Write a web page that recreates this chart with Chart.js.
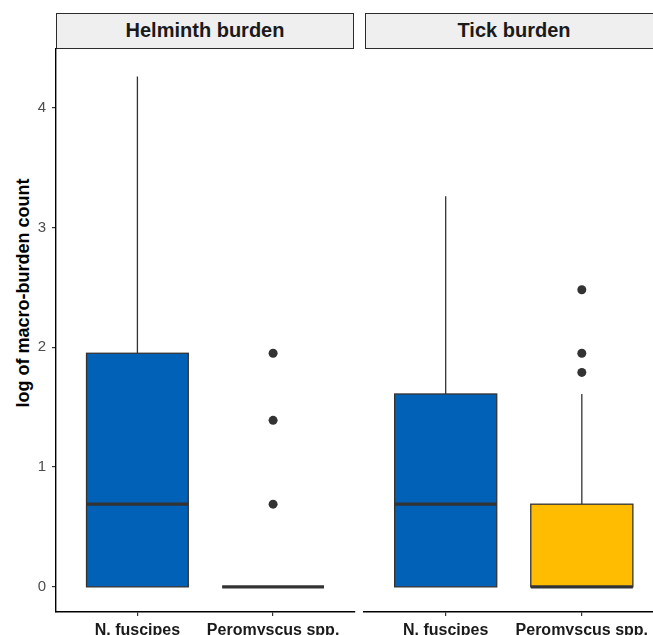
<!DOCTYPE html>
<html>
<head>
<meta charset="utf-8">
<script src="https://cdn.jsdelivr.net/npm/chart.js@4.4.1/dist/chart.umd.min.js"></script>
<style>
  html, body { margin:0; padding:0; background:#fff; }
  body { width:653px; height:635px; overflow:hidden; position:relative; font-family:"Liberation Sans", Arial, sans-serif; }
  canvas { position:absolute; top:0; }
  .strip { position:absolute; top:13px; height:36px; width:298px; box-sizing:border-box; border:1.5px solid #2b2b2b;
           background:#efefef; font-weight:bold; font-size:20px; line-height:33px; text-align:center; color:#1a1a1a; }
  #ytitle { position:absolute; left:-177px; top:282px; width:400px; height:22px; line-height:22px; text-align:center;
            transform:rotate(-90deg); font-weight:bold; font-size:18px; color:#000; }
</style>
</head>
<body>
<div id="ytitle">log of macro-burden count</div>
<div class="strip" style="left:56px;">Helminth burden</div>
<div class="strip" style="left:365px;">Tick burden</div>
<canvas id="c1" width="359" height="635" style="left:0px;width:359px;height:635px;"></canvas>
<canvas id="c2" width="315" height="635" style="left:353px;width:315px;height:635px;"></canvas>
<script>
const categories = ['N. fuscipes', 'Peromyscus spp.'];
const yTicks = [0, 1, 2, 3, 4];
const boxColors = ['#0061B7', '#FFBC00'];

const helminthLow = [0, 0];
const helminthQ1 = [0, 0];
const helminthMedian = [0.69, 0];
const helminthQ3 = [1.95, 0];
const helminthHigh = [4.26, 0];
const helminthOutliers = [[], [0.69, 1.39, 1.95]];

const tickLow = [0, 0];
const tickQ1 = [0, 0];
const tickMedian = [0.69, 0];
const tickQ3 = [1.61, 0.69];
const tickHigh = [3.26, 1.61];
const tickOutliers = [[], [1.79, 1.95, 2.48]];

const Y_MIN = -0.21, Y_MAX = 4.49;
const BOX_HALF = 0.375;

function boxPlugin(low, q1, med, q3, high) {
  return {
    id: 'boxes',
    beforeDatasetsDraw(chart) {
      const ctx = chart.ctx, xs = chart.scales.x, ys = chart.scales.y;
      ctx.save();
      categories.forEach((c, i) => {
        const pos = i + 1;
        const xc = xs.getPixelForValue(pos);
        const xl = xs.getPixelForValue(pos - BOX_HALF);
        const xr = xs.getPixelForValue(pos + BOX_HALF);
        const yq1 = ys.getPixelForValue(q1[i]);
        const yq3 = ys.getPixelForValue(q3[i]);
        const ylo = ys.getPixelForValue(low[i]);
        const yhi = ys.getPixelForValue(high[i]);
        const ym = ys.getPixelForValue(med[i]);
        ctx.strokeStyle = '#333333';
        ctx.lineWidth = 1.3;
        ctx.beginPath();
        ctx.moveTo(xc, yq3); ctx.lineTo(xc, yhi);
        ctx.moveTo(xc, yq1); ctx.lineTo(xc, ylo);
        ctx.stroke();
        ctx.fillStyle = boxColors[i];
        ctx.fillRect(xl, yq3, xr - xl, yq1 - yq3);
        ctx.strokeRect(xl, yq3, xr - xl, yq1 - yq3);
        ctx.lineWidth = 3.2;
        ctx.beginPath();
        ctx.moveTo(xl, ym); ctx.lineTo(xr, ym);
        ctx.stroke();
      });
      ctx.restore();
    }
  };
}

function makeChart(id, outliers, low, q1, med, q3, high, showY, padLeft) {
  const pts = [];
  outliers.forEach((arr, i) => arr.forEach(v => pts.push({x: i + 1, y: v})));
  return new Chart(document.getElementById(id), {
    type: 'scatter',
    data: { datasets: [{ data: pts, pointRadius: 4.5, pointHoverRadius: 4.5, backgroundColor: '#333333', borderWidth: 0 }] },
    plugins: [boxPlugin(low, q1, med, q3, high)],
    options: {
      responsive: false, animation: false, devicePixelRatio: 1,
      layout: { padding: { top: 49, left: padLeft, right: 1, bottom: 0 } },
      plugins: { legend: { display: false }, tooltip: { enabled: false } },
      scales: {
        x: {
          type: 'linear', min: 0.4, max: 2.6,
          afterBuildTicks: a => { a.ticks = categories.map((c, i) => ({ value: i + 1 })); },
          afterFit: a => { a.height = 23; a.paddingLeft = 0; a.paddingRight = 0; },
          ticks: { callback: v => categories[v - 1], color: '#1a1a1a', font: { size: 16, weight: 'bold', family: '"Liberation Sans", Arial, sans-serif' }, padding: 5, maxRotation: 0, autoSkip: false },
          grid: { drawOnChartArea: false, tickLength: 4, color: '#333333', lineWidth: 1.2 },
          border: { display: true, color: '#000000', width: 1.4 }
        },
        y: {
          display: showY,
          min: Y_MIN, max: Y_MAX,
          afterBuildTicks: a => { a.ticks = yTicks.map(v => ({ value: v })); },
          afterFit: a => { a.width = showY ? 56 : 0; a.paddingTop = 0; a.paddingBottom = 0; },
          ticks: { color: '#4d4d4d', font: { size: 15, family: '"Liberation Sans", Arial, sans-serif' }, padding: 6 },
          grid: { drawOnChartArea: false, tickLength: 4, color: '#333333', lineWidth: 1.2 },
          border: { display: true, color: '#000000', width: 1.4 }
        }
      }
    }
  });
}

makeChart('c1', helminthOutliers, helminthLow, helminthQ1, helminthMedian, helminthQ3, helminthHigh, true, 0);
makeChart('c2', tickOutliers, tickLow, tickQ1, tickMedian, tickQ3, tickHigh, false, 11);
</script>
</body>
</html>
